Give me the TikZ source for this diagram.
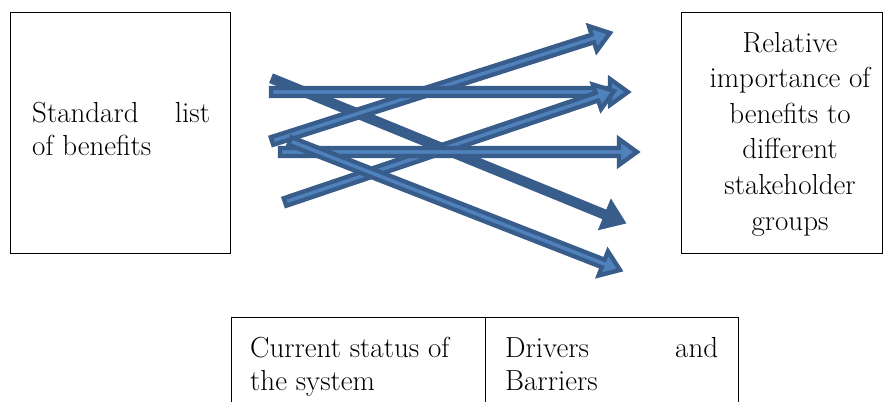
\documentclass[tikz,border=0pt]{standalone}
\usetikzlibrary{calc}
\definecolor{adark}{HTML}{385D8A}
\definecolor{alight}{HTML}{4F81BD}
\tikzset{
  box/.style={draw=black, line width=1.3pt, inner sep=0pt, anchor=north west},
  txt/.style={font=\fontsize{29}{33.4}\selectfont, inner sep=0pt},
  txtr/.style={font=\fontsize{29}{35.6}\selectfont, inner sep=0pt},
  blk/.style={draw=adark, fill=alight, line width=4.3pt, line join=miter, miter limit=6},
  blkdark/.style={blk, fill=adark},
}
\newcommand\blockarrow[4]{%
  \draw[#1] let \p1=($(#3)-(#2)$), \n1={atan2(\y1,\x1)}, \n2={veclen(\x1,\y1)} in
    ($(#2)+(\n1+90:#4)$) -- ++(\n1:\n2-18pt) -- ++(\n1+90:13pt-#4) -- (#3)
    -- ($(#3)+(\n1+180:18pt)+(\n1-90:13pt)$) -- ++(\n1+90:13pt-#4)
    -- ($(#2)+(\n1-90:#4)$) -- cycle;}
\begin{document}
\begin{tikzpicture}[x=1pt,y=-1pt]
  \clip (0,0) rectangle (890,401);
  % boxes
  \node[box, minimum width=220pt, minimum height=241pt] (std) at (10,12) {};
  \node[box, minimum width=201pt, minimum height=241pt] (rel) at (681,12) {};
  \node[box, minimum width=254pt, minimum height=110pt] (cur) at (231,317) {};
  \node[box, minimum width=253pt, minimum height=110pt] (drv) at (485,317) {};
  % texts
  \node[txt, anchor=base west] (stdt) at (32,122) {\hbox to 178pt{Standard\hfill list}};
  \node[txt, anchor=base west] (stdt2) at (32,155.5) {of benefits};
  \node[txtr, align=center] (relt) at (790,134) {Relative\\importance of\\benefits to\\different\\stakeholder\\groups};
  \node[txt, anchor=base west] (curt) at (250,357) {Current status of};
  \node[txt, anchor=base west] (curt2) at (250,390) {the system};
  \node[txt, anchor=base west] (drvt) at (505,357) {\hbox to 213pt{Drivers\hfill and}};
  \node[txt, anchor=base west] (drvt2) at (505,390) {Barriers};
  % arrow end points
  \coordinate (s1) at (272,141); \coordinate (e1) at (610,33);
  \coordinate (s2) at (271,92);  \coordinate (e2) at (628,92);
  \coordinate (s3) at (285,202); \coordinate (e3) at (614,91);
  \coordinate (s4) at (280,152); \coordinate (e4) at (637,152);
  \coordinate (s5) at (273,79);  \coordinate (e5) at (623,222);
  \coordinate (s6) at (290,141); \coordinate (e6) at (620,270);
  % arrows
  \blockarrow{blkdark}{s5}{e5}{3pt}
  \blockarrow{blk}{s1}{e1}{4pt}
  \blockarrow{blk}{s2}{e2}{4pt}
  \blockarrow{blk}{s3}{e3}{4pt}
  \blockarrow{blk}{s4}{e4}{4pt}
  \blockarrow{blk}{s6}{e6}{4pt}
\end{tikzpicture}
\end{document}
